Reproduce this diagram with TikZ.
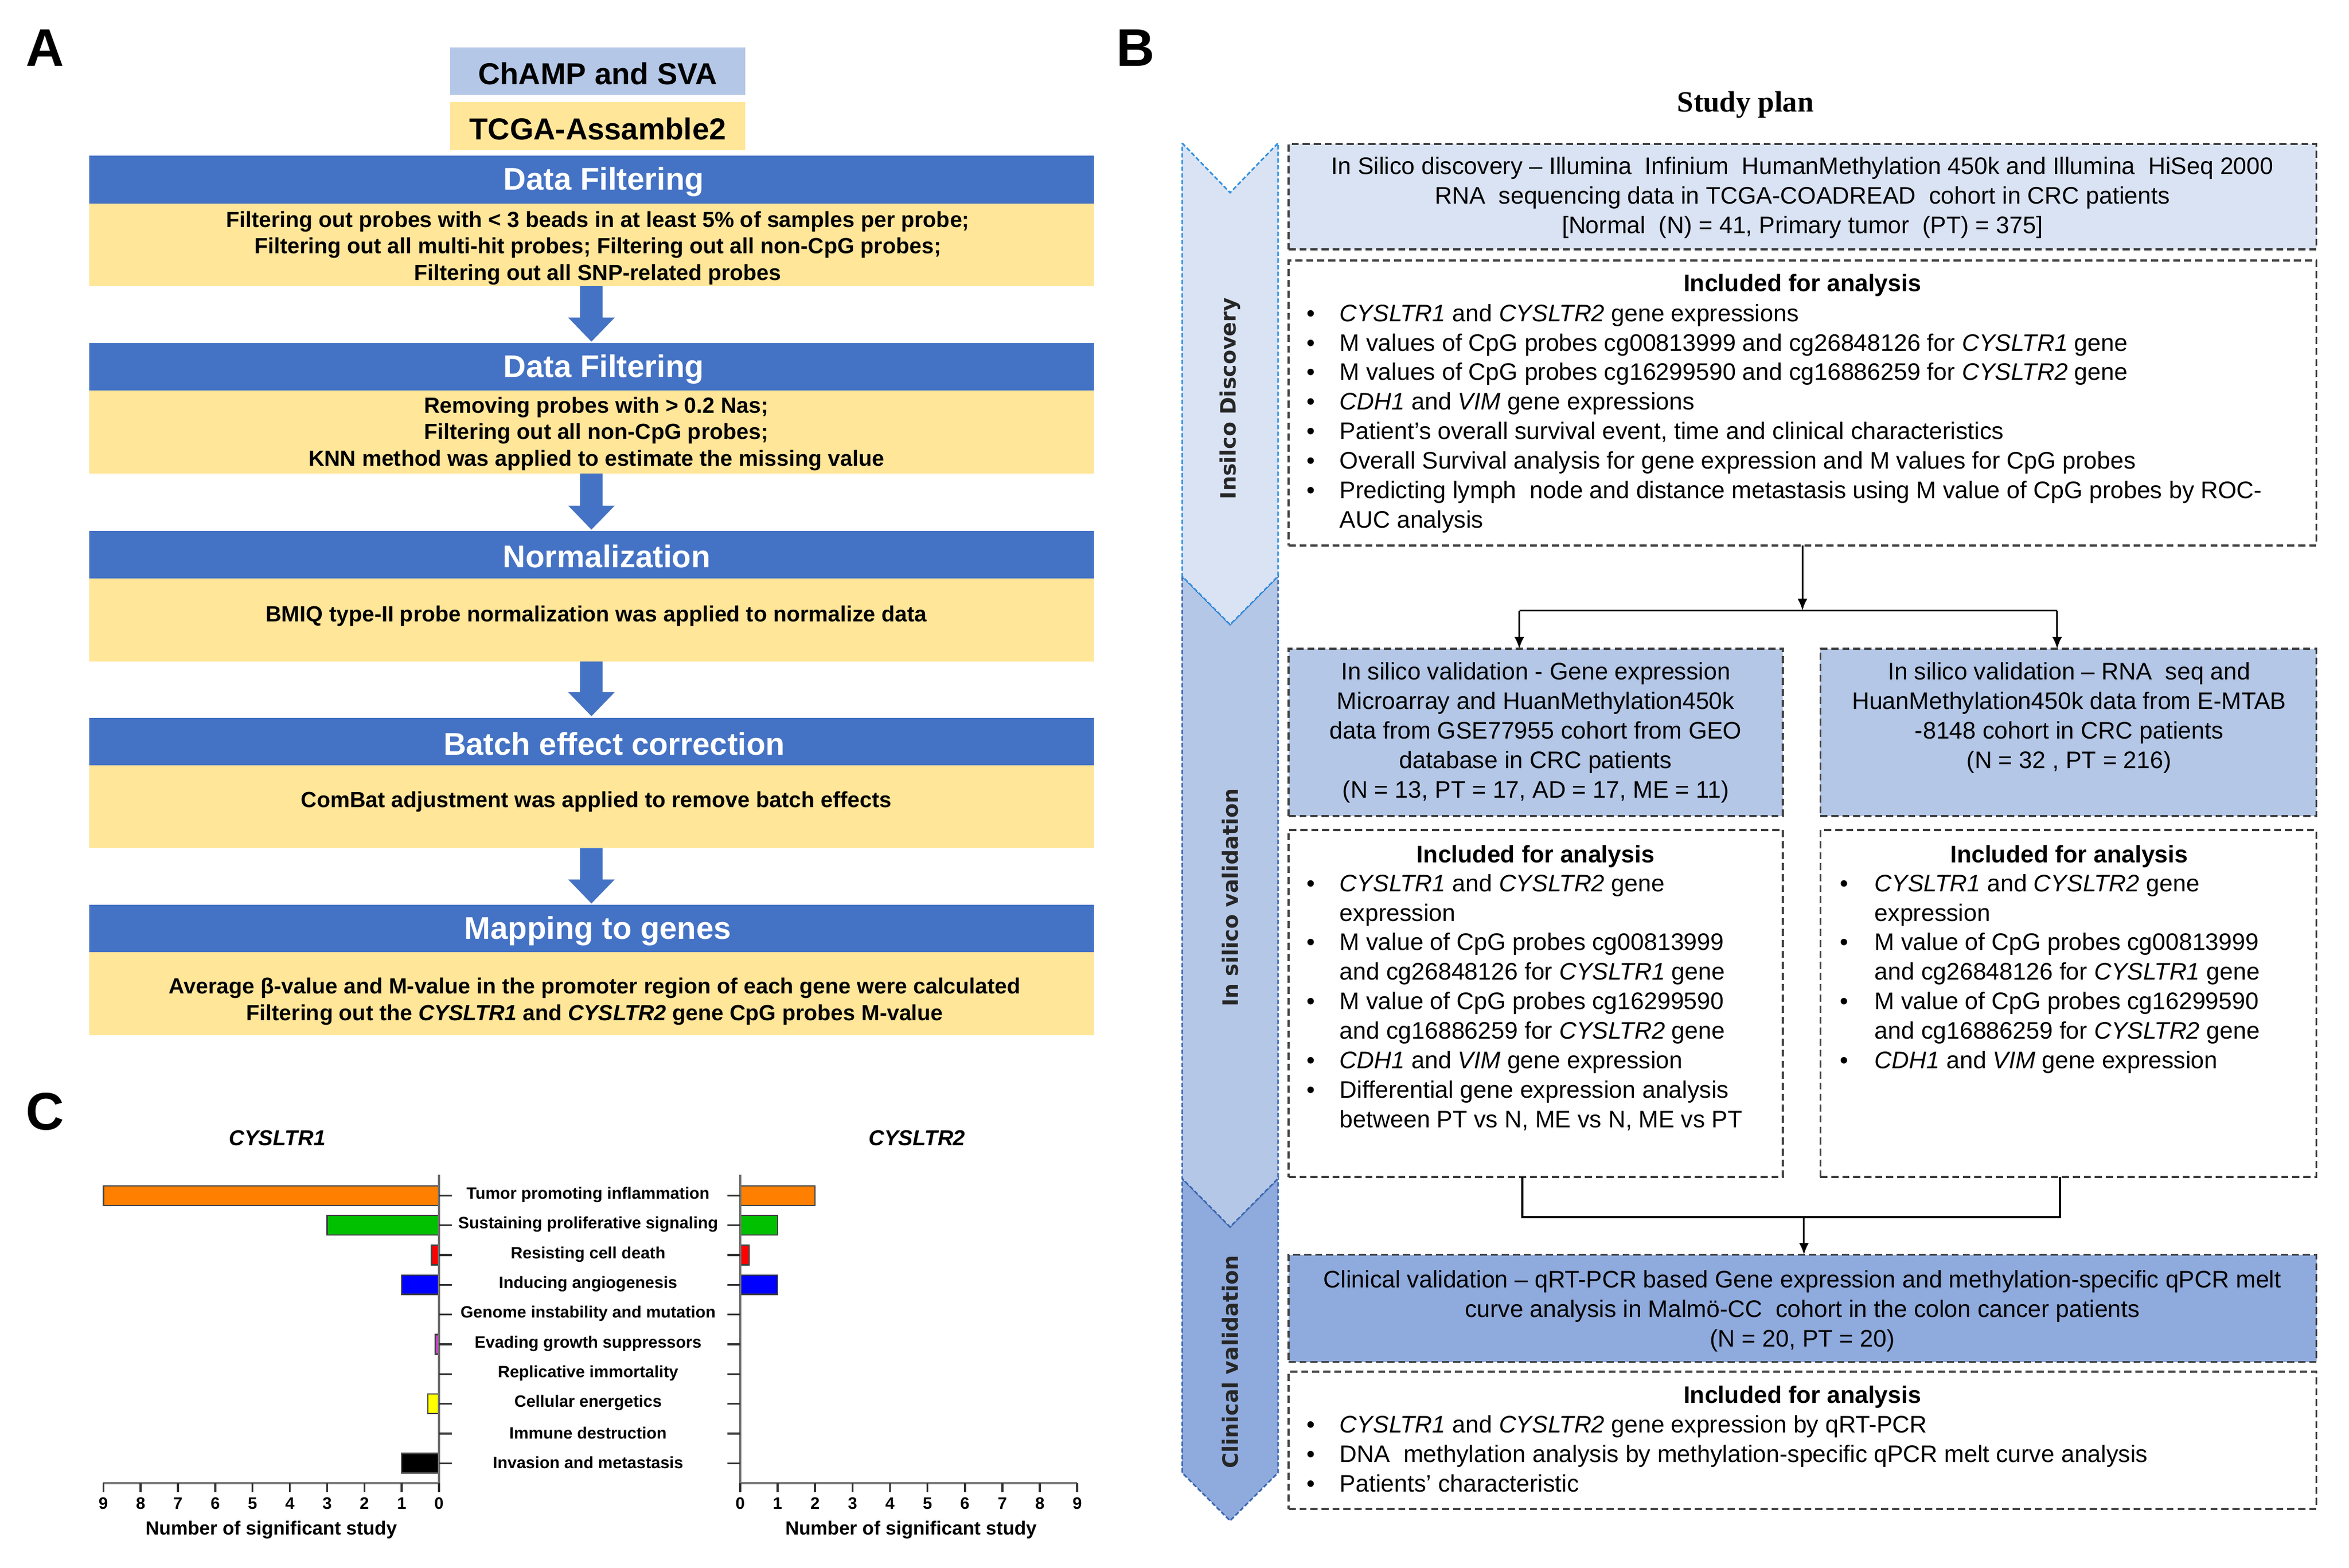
\documentclass[tikz,border=0pt]{standalone}
\usepackage{fontspec}
\setmainfont{Liberation Sans}
\newfontfamily\serifTimes{Liberation Serif}
\newfontfamily\dvsans{DejaVu Sans}
\usetikzlibrary{arrows.meta,calc}
\definecolor{hblue}{HTML}{4472C4}
\definecolor{byel}{HTML}{FFE699}
\definecolor{lblue}{HTML}{DAE3F3}
\definecolor{mblue}{HTML}{B4C7E7}
\definecolor{dblue}{HTML}{8FAADC}
\definecolor{dgray}{HTML}{404040}
\definecolor{chvA}{HTML}{2F8FE0}
\definecolor{chvB}{HTML}{3A66B0}
\definecolor{corange}{HTML}{FF8000}
\definecolor{cgreen}{HTML}{00C000}
\definecolor{cred}{HTML}{FF0000}
\definecolor{cblue}{HTML}{0000FF}
\definecolor{cmag}{HTML}{E040E0}
\definecolor{cyel}{HTML}{FFFF00}
\newcommand\fsz[2]{\fontsize{#1}{#2}\selectfont}
\newlength\ux
\setlength\ux{0.026865cm}
\newcommand\rbox[6]{\node[#2,anchor=north west,inner sep=0pt,outer sep=0pt,minimum width={(#5-#3)*\ux},minimum height={(#6-#4)*\ux}] (#1) at (#3,#4) {};}
\newcommand\blockarrow[3]{%
  \path (#2.south) coordinate (#1t) (#2.south |- #3.north) coordinate (#1b);
  \fill[hblue] ($(#1t)+(-7.5,0)$) -- ($(#1t)+(7.5,0)$) -- ($(#1b)+(7.5,-17)$) -- ($(#1b)+(15.5,-17)$) -- ($(#1b)+(0,-1)$) -- ($(#1b)+(-15.5,-17)$) -- ($(#1b)+(-7.5,-17)$) -- cycle;}
\newcommand\itm[5]{%
  \node[btxt,anchor=base] (#1b) at (#2,{#4+4.5}) {•};
  \node[btxt,anchor=base west] (#1) at (#3,{#4+4.5}) {#5};}
\newcommand\cont[4]{\node[btxt,anchor=base west] (#1) at (#2,{#3+4.5}) {#4};}
\begin{document}
\begin{tikzpicture}[x=0.026865cm,y=-0.026865cm,
  hdr/.style={fill=hblue,draw=none},
  body/.style={fill=byel,draw=none},
  htxt/.style={font=\bfseries\fsz{16}{19},text=white,inner sep=0pt},
  atxt/.style={font=\bfseries\fsz{11.2}{13.5},align=center,inner sep=0pt},
  dbox/.style={draw=dgray,line width=1.1pt,dash pattern=on 3.6pt off 2pt},
  btxt/.style={font=\fsz{12.2}{15.05},inner sep=0pt},
  bctr/.style={font=\fsz{12.2}{15.05},inner sep=0pt,align=center},
  btit/.style={font=\bfseries\fsz{12.2}{15.05},inner sep=0pt},
  chv/.style={line width=0.8pt,dash pattern=on 2.2pt off 1.2pt},
  chvtxt/.style={rotate=90,font=\dvsans\bfseries\fsz{10.8}{12},text=black!85,inner sep=0pt},
  conn/.style={draw=black,line width=0.9pt},
  tip/.style={-{Latex[length=6pt,width=5pt]}},
  bar/.style={draw=black!75,line width=0.7pt},
  axis/.style={draw=black!55,line width=1.2pt},
  ctick/.style={draw=black!80,line width=1pt},
  clab/.style={font=\bfseries\fsz{8.4}{10},inner sep=0pt},
  cnum/.style={font=\bfseries\fsz{8.5}{10},inner sep=0pt},
  panel/.style={font=\bfseries\fsz{27}{30},inner sep=0pt}]
\useasboundingbox (0,0) rectangle (1567.8,1046.2);

% ---------------- Panel letters
\node[panel] (PA) at (30,32) {A};
\node[panel] (PB) at (758,32) {B};
\node[panel] (PC) at (30,742) {C};

% ---------------- Panel A
\rbox{champ}{fill=mblue}{300.5}{31.7}{497.5}{63.3}
\node[font=\bfseries\fsz{15.5}{18},inner sep=0pt] (champt) at (399,49) {ChAMP and SVA};
\rbox{tcga}{fill=byel}{300.5}{68}{497.5}{100}
\node[font=\bfseries\fsz{15.5}{18},inner sep=0pt] (tcgat) at (399,86) {TCGA-Assamble2};

\rbox{h1}{hdr}{59.5}{104}{730}{135.7}
\rbox{b1}{body}{59.5}{135.7}{730}{191}
\rbox{h2}{hdr}{59.5}{229}{730}{260.7}
\rbox{b2}{body}{59.5}{260.7}{730}{316}
\rbox{h3}{hdr}{59.5}{354.5}{730}{386.2}
\rbox{b3}{body}{59.5}{386.2}{730}{441.5}
\rbox{h4}{hdr}{59.5}{479}{730}{510.7}
\rbox{b4}{body}{59.5}{510.7}{730}{566}
\rbox{h5}{hdr}{59.5}{604}{730}{635.7}
\rbox{b5}{body}{59.5}{635.7}{730}{691}

\node[htxt] (h1t) at (403,121.5) {Data Filtering};
\node[htxt] (h2t) at (403,246.5) {Data Filtering};
\node[htxt] (h3t) at (405,371.5) {Normalization};
\node[htxt] (h4t) at (410,496.5) {Batch effect correction};
\node[htxt] (h5t) at (399,621.5) {Mapping to genes};

\node[atxt] (b1t) at (399,165.5) {Filtering out probes with < 3 beads in at least 5\% of samples per probe;\\Filtering out all multi-hit probes; Filtering out all non-CpG probes;\\Filtering out all SNP-related probes};
\node[atxt] (b2t) at (398,289.5) {Removing probes with > 0.2 Nas;\\Filtering out all non-CpG probes;\\KNN method was applied to estimate the missing value};
\node[atxt] (b3t) at (398,411) {BMIQ type-II probe normalization was applied to normalize data};
\node[atxt] (b4t) at (398,535) {ComBat adjustment was applied to remove batch effects};
\node[atxt] (b5t) at (397,668.5) {Average β-value and M-value in the promoter region of each gene were calculated\\Filtering out the \textit{CYSLTR1} and \textit{CYSLTR2} gene CpG probes M-value};

\blockarrow{ar1}{b1}{h2}
\blockarrow{ar2}{b2}{h3}
\blockarrow{ar3}{b3}{h4}
\blockarrow{ar4}{b4}{h5}

% ---------------- Panel B
\node[font=\serifTimes\bfseries\fsz{15}{18},inner sep=0pt] (plan) at (1165,70) {Study plan};

% chevrons
\draw[chv,draw=chvB,fill=dblue] (789,786.6) -- (821,818.9) -- (853,786.6) -- (853,983) -- (821,1015) -- (789,983) -- cycle;
\draw[chv,draw=chvB,fill=mblue] (789,384.6) -- (821,416.9) -- (853,384.6) -- (853,786.6) -- (821,818.9) -- (789,786.6) -- cycle;
\draw[chv,draw=chvA,fill=lblue] (789,95.5) -- (821,128.6) -- (853,95.5) -- (853,384.6) -- (821,416.9) -- (789,384.6) -- cycle;
\node[chvtxt] (cv1) at (821,266) {Insilco Discovery};
\node[chvtxt] (cv2) at (821,599) {In silico validation};
\node[chvtxt] (cv3) at (821,909) {Clinical validation};

% boxes
\rbox{disc}{dbox,fill=lblue}{860}{96}{1546}{166.5}
\rbox{inc1}{dbox,fill=white}{860}{174}{1546}{364}
\rbox{val1}{dbox,fill=mblue}{860}{433}{1190}{544.7}
\rbox{val2}{dbox,fill=mblue}{1215}{433}{1546}{544.7}
\rbox{inc2}{dbox,fill=white}{860}{554}{1190}{785.5}
\rbox{inc3}{dbox,fill=white}{1215}{554}{1546}{785.5}
\rbox{clin}{dbox,fill=dblue}{860}{837.5}{1546}{909}
\rbox{inc4}{dbox,fill=white}{860}{915.5}{1546}{1007}

\node[bctr] (disct) at (1203,132) {In Silico discovery – Illumina\ \ Infinium\ \ HumanMethylation 450k and Illumina\ \ HiSeq 2000\\RNA\ \ sequencing data in TCGA-COADREAD\ \ cohort in CRC patients\\{[}Normal\ \ (N) = 41, Primary tumor\ \ (PT) = 375{]}};

\node[btit] (inc1t) at (1203,190.5) {Included for analysis};
\itm{a1}{875}{894}{210}{\textit{CYSLTR1} and \textit{CYSLTR2} gene expressions}
\itm{a2}{875}{894}{229.7}{M values of CpG probes cg00813999 and cg26848126 for \textit{CYSLTR1} gene}
\itm{a3}{875}{894}{249.4}{M values of CpG probes cg16299590 and cg16886259 for \textit{CYSLTR2} gene}
\itm{a4}{875}{894}{269.1}{\textit{CDH1} and \textit{VIM} gene expressions}
\itm{a5}{875}{894}{288.8}{Patient's overall survival event, time and clinical characteristics}
\itm{a6}{875}{894}{308.5}{Overall Survival analysis for gene expression and M values for CpG probes}
\itm{a7}{875}{894}{328.2}{Predicting lymph\ \ node and distance metastasis using M value of CpG probes by ROC-}
\cont{a7c}{894}{347.9}{AUC analysis}

\node[bctr] (val1t) at (1025,489) {In silico validation - Gene expression\\Microarray and HuanMethylation450k\\data from GSE77955 cohort from GEO\\database in CRC patients\\(N = 13, PT = 17, AD = 17, ME = 11)};
\node[bctr] (val2t) at (1381,479.2) {In silico validation – RNA\ \ seq and\\HuanMethylation450k data from E-MTAB\\-8148 cohort in CRC patients\\(N = 32 , PT = 216)};

\node[btit] (inc2t) at (1025,571.5) {Included for analysis};
\itm{l1}{875}{894}{590.5}{\textit{CYSLTR1} and \textit{CYSLTR2} gene}
\cont{l1c}{894}{610.2}{expression}
\itm{l2}{875}{894}{629.9}{M value of CpG probes cg00813999}
\cont{l2c}{894}{649.6}{and cg26848126 for \textit{CYSLTR1} gene}
\itm{l3}{875}{894}{669.3}{M value of CpG probes cg16299590}
\cont{l3c}{894}{689}{and cg16886259 for \textit{CYSLTR2} gene}
\itm{l4}{875}{894}{708.7}{\textit{CDH1} and \textit{VIM} gene expression}
\itm{l5}{875}{894}{728.4}{Differential gene expression analysis}
\cont{l5c}{894}{748.1}{between PT vs N, ME vs N, ME vs PT}

\node[btit] (inc3t) at (1381,571.5) {Included for analysis};
\itm{r1}{1231}{1251}{590.5}{\textit{CYSLTR1} and \textit{CYSLTR2} gene}
\cont{r1c}{1251}{610.2}{expression}
\itm{r2}{1231}{1251}{629.9}{M value of CpG probes cg00813999}
\cont{r2c}{1251}{649.6}{and cg26848126 for \textit{CYSLTR1} gene}
\itm{r3}{1231}{1251}{669.3}{M value of CpG probes cg16299590}
\cont{r3c}{1251}{689}{and cg16886259 for \textit{CYSLTR2} gene}
\itm{r4}{1231}{1251}{708.7}{\textit{CDH1} and \textit{VIM} gene expression}

\node[bctr] (clint) at (1203,875) {Clinical validation – qRT-PCR based Gene expression and methylation-specific qPCR melt\\curve analysis in Malmö-CC\ \ cohort in the colon cancer patients\\(N = 20, PT = 20)};

\node[btit] (inc4t) at (1203,932.5) {Included for analysis};
\itm{c1}{875}{894}{951.7}{\textit{CYSLTR1} and \textit{CYSLTR2} gene expression by qRT-PCR}
\itm{c2}{875}{894}{971.4}{DNA\ \ methylation analysis by methylation-specific qPCR melt curve analysis}
\itm{c3}{875}{894}{991.1}{Patients' characteristic}

% connectors
\coordinate (jc) at (1203,407.5);
\coordinate (jl) at (1014,407.5);
\coordinate (jr) at (1373,407.5);
\draw[conn,tip] (inc1.south) -- (jc);
\draw[conn] (jl) -- (jr);
\draw[conn,tip] (jl) -- (jl |- val1.north);
\draw[conn,tip] (jr) -- (jr |- val2.north);
\coordinate (kl) at (1016,812.5);
\coordinate (kr) at (1375,812.5);
\coordinate (kc) at (1204,812.5);
\draw[conn,line width=1.2pt] (inc2.south -| kl) -- (kl) -- (kr) -- (inc3.south -| kr);
\draw[conn,tip] (kc) -- (kc |- clin.north);

% ---------------- Panel C
\node[font=\bfseries\itshape\fsz{11}{13},inner sep=0pt] (g1) at (185,759.5) {CYSLTR1};
\node[font=\bfseries\itshape\fsz{11}{13},inner sep=0pt] (g2) at (612,759.5) {CYSLTR2};

% bars left (9 -> x=69, 0 -> x=293)
\draw[bar,fill=corange] (69,791.5) rectangle (293,804.5);
\draw[bar,fill=cgreen] (218.3,811.3) rectangle (293,824.3);
\draw[bar,fill=cred] (288,831.2) rectangle (293,844.2);
\draw[bar,fill=cblue] (268.1,851) rectangle (293,864);
\draw[bar,fill=cmag] (290.5,890.7) rectangle (293,903.7);
\draw[bar,fill=cyel] (285.5,930.4) rectangle (293,943.4);
\draw[bar,fill=black] (268.1,970.1) rectangle (293,983.1);
% bars right (0 -> x=494, 9 -> x=719)
\draw[bar,fill=corange] (494,791.5) rectangle (544,804.5);
\draw[bar,fill=cgreen] (494,811.3) rectangle (519,824.3);
\draw[bar,fill=cred] (494,831.2) rectangle (500,844.2);
\draw[bar,fill=cblue] (494,851) rectangle (519,864);

% axes
\draw[axis] (293,784) -- (293,990) -- (69,990);
\draw[axis] (494,784) -- (494,990) -- (719,990);
\foreach \i in {0,...,9}{
  \draw[ctick] ({293-24.89*\i},990) -- ({293-24.89*\i},996);
  \node[cnum] (ln\i) at ({293-24.89*\i},1003.5) {\i};
  \draw[ctick] ({494+25*\i},990) -- ({494+25*\i},996);
  \node[cnum] (rn\i) at ({494+25*\i},1003.5) {\i};
  \draw[ctick] (293,{798+19.85*\i}) -- (301.5,{798+19.85*\i});
  \draw[ctick] (485.5,{798+19.85*\i}) -- (494,{798+19.85*\i});
}
\foreach \t [count=\k from 0] in {Tumor promoting inflammation,Sustaining proliferative signaling,Resisting cell death,Inducing angiogenesis,Genome instability and mutation,Evading growth suppressors,Replicative immortality,Cellular energetics,Immune destruction,Invasion and metastasis}{
  \node[clab] (cat\k) at (392.5,{797.5+19.85*\k}) {\t};
}
\node[font=\bfseries\fsz{9.7}{11},inner sep=0pt] (xl1) at (181,1021) {Number of significant study};
\node[font=\bfseries\fsz{9.7}{11},inner sep=0pt] (xl2) at (608,1021) {Number of significant study};
\end{tikzpicture}
\end{document}
